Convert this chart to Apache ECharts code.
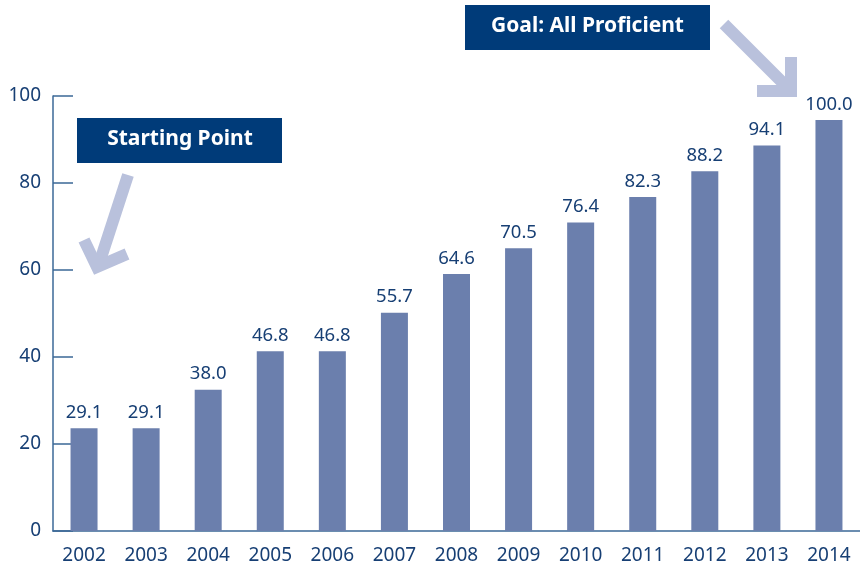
<!DOCTYPE html>
<html>
<head>
<meta charset="utf-8">
<script src="https://cdn.jsdelivr.net/npm/echarts@6/dist/echarts.min.js"></script>
<style>
  html, body { margin: 0; padding: 0; background: #fff; }
  #chart { width: 860px; height: 571px; }
</style>
</head>
<body>
<div id="chart"></div>
<script>
// School years and the percent-proficient target for each
const years = ['2002', '2003', '2004', '2005', '2006', '2007', '2008', '2009', '2010', '2011', '2012', '2013', '2014'];
const targets = [29.1, 29.1, 38.0, 46.8, 46.8, 55.7, 64.6, 70.5, 76.4, 82.3, 88.2, 94.1, 100.0];
const yTicks = [0, 20, 40, 60, 80, 100];

const navy = '#003b79';
const textBlue = '#173f74';
const barBlue = '#6b7fad';
const arrowTint = '#b9c1dc';
const font = 'Noto Sans';

const chart = echarts.init(document.getElementById('chart'), null, { renderer: 'canvas' });

chart.setOption({
  animation: false,
  textStyle: { fontFamily: font },
  grid: { left: 53, top: 96, width: 810, bottom: 40, containLabel: false },
  xAxis: {
    type: 'category',
    data: years,
    axisLine: { lineStyle: { color: '#3b6897', width: 1.5 } },
    axisTick: { show: false },
    axisLabel: { color: textBlue, fontSize: 19, margin: 15, fontFamily: font }
  },
  yAxis: [
    {
      type: 'value',
      min: yTicks[0],
      max: yTicks[yTicks.length - 1],
      interval: 20,
      axisLine: { show: true, lineStyle: { color: '#3b6897', width: 1.5 } },
      axisTick: { show: true, inside: true, length: 20, lineStyle: { color: '#3b6897', width: 1.5 } },
      splitLine: { show: false },
      axisLabel: { color: textBlue, fontSize: 19, margin: 12, fontFamily: font }
    },
    {
      // scale the bars are measured on (baseline sits a little above zero)
      type: 'value',
      min: 5.5,
      max: 105.5,
      show: false,
      splitLine: { show: false }
    }
  ],
  series: [{
    type: 'bar',
    yAxisIndex: 1,
    data: targets,
    barWidth: 27,
    itemStyle: { color: barBlue },
    label: {
      show: true,
      position: 'top',
      distance: 6,
      color: textBlue,
      fontSize: 18.5,
      fontFamily: font,
      formatter: p => p.value.toFixed(1)
    }
  }],
  graphic: [
    // "Goal" callout
    { type: 'rect', shape: { x: 465, y: 5, width: 245, height: 45 }, style: { fill: navy } },
    { type: 'text', x: 587.5, y: 26, style: { text: 'Goal: All Proficient', fill: '#fff', font: 'bold 21px "Noto Sans"', textAlign: 'center', textVerticalAlign: 'middle' } },
    { type: 'polyline', shape: { points: [[724, 24], [789, 89]] }, style: { stroke: arrowTint, lineWidth: 12, lineCap: 'butt', fill: null } },
    { type: 'polyline', shape: { points: [[757, 91], [791, 91], [791, 57]] }, style: { stroke: arrowTint, lineWidth: 12, lineCap: 'butt', lineJoin: 'miter', fill: null } },
    // "Starting Point" callout
    { type: 'rect', shape: { x: 77, y: 118, width: 205, height: 45 }, style: { fill: navy } },
    { type: 'text', x: 180, y: 139, style: { text: 'Starting Point', fill: '#fff', font: 'bold 21px "Noto Sans"', textAlign: 'center', textVerticalAlign: 'middle' } },
    { type: 'polyline', shape: { points: [[128, 175], [99, 264]] }, style: { stroke: arrowTint, lineWidth: 12, lineCap: 'butt', fill: null } },
    { type: 'polyline', shape: { points: [[84, 240], [97, 267], [127, 254]] }, style: { stroke: arrowTint, lineWidth: 12, lineCap: 'butt', lineJoin: 'miter', fill: null } }
  ]
});
</script>
</body>
</html>
